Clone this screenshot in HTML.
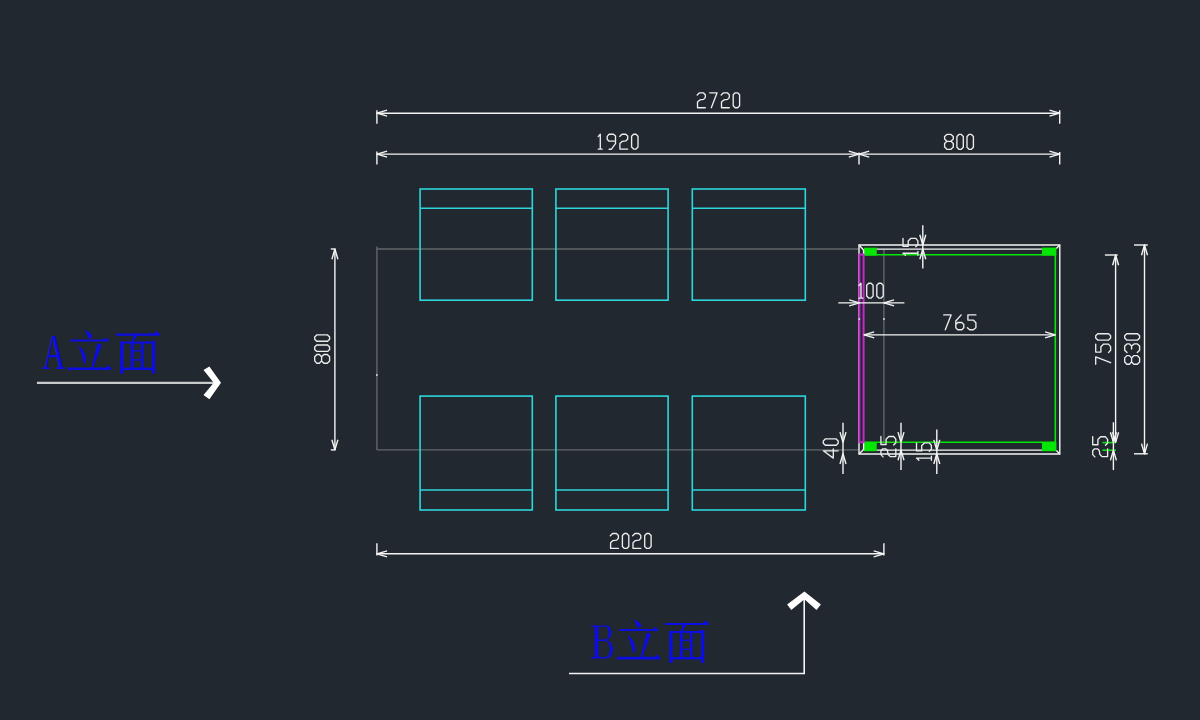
<!DOCTYPE html><html><head><meta charset="utf-8"><style>html,body{margin:0;padding:0;background:#22282f;width:1200px;height:720px;overflow:hidden}svg{display:block}</style></head><body>
<svg width="1200" height="720" viewBox="0 0 1200 720">
<rect width="1200" height="720" fill="#22282f"/>
<g stroke="#62666a" stroke-width="1.4" fill="none">
<line x1="376.9" y1="249" x2="858.8" y2="249"/>
<line x1="376.9" y1="449.9" x2="858.8" y2="449.9"/>
<line x1="376.9" y1="246.6" x2="376.9" y2="449.9"/>
<line x1="883.9" y1="249" x2="883.9" y2="442.3"/>
</g>
<g stroke="#2cd6dc" stroke-width="1.6" fill="none">
<rect x="420.1" y="189" width="112.2" height="111.2"/>
<line x1="420.1" y1="208.3" x2="532.3" y2="208.3"/>
<rect x="420.1" y="396.1" width="112.2" height="113.9"/>
<line x1="420.1" y1="490" x2="532.3" y2="490"/>
<rect x="555.9" y="189" width="112.2" height="111.2"/>
<line x1="555.9" y1="208.3" x2="668.1" y2="208.3"/>
<rect x="555.9" y="396.1" width="112.2" height="113.9"/>
<line x1="555.9" y1="490" x2="668.1" y2="490"/>
<rect x="692.3" y="189" width="113.0" height="111.2"/>
<line x1="692.3" y1="208.3" x2="805.3" y2="208.3"/>
<rect x="692.3" y="396.1" width="113.0" height="113.9"/>
<line x1="692.3" y1="490" x2="805.3" y2="490"/>
</g>
<g fill="#06e606" stroke="none">
<rect x="864" y="247.7" width="12.7" height="7.9"/>
<rect x="1041.9" y="247.6" width="14.5" height="8"/>
<rect x="864" y="442" width="12.7" height="9.2"/>
<rect x="1041.9" y="442" width="14.5" height="9.2"/>
</g>
<g stroke="#06e606" stroke-width="1.6" fill="none">
<line x1="864" y1="254.8" x2="1055.3" y2="254.8"/>
<line x1="864" y1="442.3" x2="1055.3" y2="442.3"/>
<line x1="1055.3" y1="254.8" x2="1055.3" y2="442.3"/>
<line x1="1102.4" y1="442.6" x2="1115.9" y2="442.6"/>
<line x1="1102.4" y1="450.2" x2="1115.9" y2="450.2"/>
</g>
<g stroke="#f4f4f4" stroke-width="1.4" fill="none">
<path d="M859,454 L859,245 L1059.8,245 L1059.8,454 Z"/>
<line x1="876.7" y1="249.1" x2="1041.9" y2="249.1"/>
<line x1="876.7" y1="450.1" x2="1041.9" y2="450.1"/>
<line x1="859" y1="245" x2="863.6" y2="250"/>
<line x1="863.6" y1="250" x2="863.6" y2="254.4"/>
<line x1="859" y1="454" x2="863.6" y2="449.5"/>
<line x1="863.6" y1="442.4" x2="863.6" y2="450"/>
<line x1="1059.8" y1="245" x2="1056.4" y2="248.4"/>
<line x1="1059.8" y1="454" x2="1056.4" y2="450.6"/>
</g>
<g stroke="#c42ac8" stroke-width="2.0" fill="none">
<path d="M859.4,442.2 L859.4,254.4 L863.6,254.4 L863.6,442.2 Z"/>
</g>
<g stroke="#f4f4f4" stroke-width="1.4" fill="none" stroke-linecap="butt" stroke-linejoin="round">
<line x1="376.9" y1="113.2" x2="1059.7" y2="113.2"/>
<path d="M387.10,110.20 L376.9,113.2 L387.10,116.20"/>
<path d="M1049.50,116.20 L1059.7,113.2 L1049.50,110.20"/>
<line x1="376.9" y1="110.2" x2="376.9" y2="123.8"/>
<line x1="1059.7" y1="110.2" x2="1059.7" y2="123.8"/>
<line x1="376.9" y1="154.1" x2="859" y2="154.1"/>
<path d="M387.10,151.10 L376.9,154.1 L387.10,157.10"/>
<path d="M848.80,157.10 L859,154.1 L848.80,151.10"/>
<line x1="859" y1="154.1" x2="1059.7" y2="154.1"/>
<path d="M869.20,151.10 L859,154.1 L869.20,157.10"/>
<path d="M1049.50,157.10 L1059.7,154.1 L1049.50,151.10"/>
<line x1="376.9" y1="151.4" x2="376.9" y2="164.6"/>
<line x1="859" y1="152.4" x2="859" y2="164.4"/>
<line x1="1059.7" y1="152" x2="1059.7" y2="164.6"/>
<line x1="376.9" y1="553.8" x2="883.9" y2="553.8"/>
<path d="M387.10,550.80 L376.9,553.8 L387.10,556.80"/>
<path d="M873.70,556.80 L883.9,553.8 L873.70,550.80"/>
<line x1="376.9" y1="543.2" x2="376.9" y2="555.6"/>
<line x1="883.9" y1="543.2" x2="883.9" y2="555.6"/>
<line x1="334.9" y1="249" x2="334.9" y2="449.9"/>
<path d="M337.90,259.20 L334.9,249 L331.90,259.20"/>
<path d="M331.90,439.70 L334.9,449.9 L337.90,439.70"/>
<line x1="330.8" y1="249" x2="335.4" y2="249"/>
<line x1="330.8" y1="449.9" x2="335.4" y2="449.9"/>
<line x1="838.3" y1="302.9" x2="904.4" y2="302.9"/>
<path d="M849.20,305.90 L859.4,302.9 L849.20,299.90"/>
<path d="M894.10,299.90 L883.9,302.9 L894.10,305.90"/>
<line x1="864" y1="334.9" x2="1055.3" y2="334.9"/>
<path d="M874.20,331.90 L864,334.9 L874.20,337.90"/>
<path d="M1045.10,337.90 L1055.3,334.9 L1045.10,331.90"/>
<line x1="922.8" y1="225.2" x2="922.8" y2="268.6"/>
<path d="M919.80,234.80 L922.8,245 L925.80,234.80"/>
<path d="M925.80,259.30 L922.8,249.1 L919.80,259.30"/>
<line x1="1115.6" y1="255" x2="1115.6" y2="442.4"/>
<path d="M1118.60,265.20 L1115.6,255 L1112.60,265.20"/>
<path d="M1112.60,432.20 L1115.6,442.4 L1118.60,432.20"/>
<line x1="1104.9" y1="255" x2="1117.7" y2="255"/>
<line x1="1144.5" y1="245" x2="1144.5" y2="453.8"/>
<path d="M1147.50,255.20 L1144.5,245 L1141.50,255.20"/>
<path d="M1141.50,443.60 L1144.5,453.8 L1147.50,443.60"/>
<line x1="1134" y1="245" x2="1147.8" y2="245"/>
<line x1="1134" y1="453.8" x2="1147.8" y2="453.8"/>
<line x1="1113.4" y1="422.3" x2="1113.4" y2="470.1"/>
<path d="M1110.40,432.20 L1113.4,442.4 L1116.40,432.20"/>
<path d="M1116.40,460.40 L1113.4,450.2 L1110.40,460.40"/>
<line x1="843" y1="422.7" x2="843" y2="474.1"/>
<path d="M840.00,432.10 L843,442.3 L846.00,432.10"/>
<path d="M846.00,464.00 L843,453.8 L840.00,464.00"/>
<line x1="901" y1="422.7" x2="901" y2="470"/>
<path d="M898.00,432.10 L901,442.3 L904.00,432.10"/>
<path d="M904.00,460.30 L901,450.1 L898.00,460.30"/>
<line x1="936.8" y1="429.4" x2="936.8" y2="474.1"/>
<path d="M933.80,439.90 L936.8,450.1 L939.80,439.90"/>
<path d="M939.80,464.00 L936.8,453.8 L933.80,464.00"/>
</g>
<g fill="#d8d8d8">
<rect x="858.4" y="318.2" width="1.7" height="1.7"/>
<rect x="883.1" y="318.2" width="1.7" height="1.7"/>
<rect x="376" y="374.2" width="1.7" height="1.7"/>
</g>
<g stroke="#ececec" stroke-width="1.35" fill="none" stroke-linejoin="round" stroke-linecap="round">
<path transform="translate(697.20,92.80)" d="M0,2.2 L2.3,0 L6.1,0 L8.1,1.9 L8.1,4.8 L6.4,6.6 L2.7,7.1 L0.3,9.3 L0.3,14.9 L8.1,14.9"/>
<path transform="translate(709.70,92.80)" d="M0,0 L7.4,0 L1.6,14.9"/>
<path transform="translate(721.20,92.80)" d="M0,2.2 L2.3,0 L6.1,0 L8.1,1.9 L8.1,4.8 L6.4,6.6 L2.7,7.1 L0.3,9.3 L0.3,14.9 L8.1,14.9"/>
<path transform="translate(733.20,92.80)" d="M0,2 L2,0 L4.4,0 L6.4,2 L6.4,12.9 L4.4,14.9 L2,14.9 L0,12.9 Z"/>
<path transform="translate(598.20,134.20)" d="M0,2.4 L2.1,0 L2.1,14.9 M0,14.9 L4.0,14.9"/>
<path transform="translate(607.20,134.20)" d="M8.3,6.85 L1.6,6.85 L0,5.1 L0,2.15 L1.9,0 L6.3,0 L8.3,1.9 L8.3,9.45 L4.25,15 L1.9,15"/>
<path transform="translate(619.60,134.20)" d="M0,2.2 L2.3,0 L6.1,0 L8.1,1.9 L8.1,4.8 L6.4,6.6 L2.7,7.1 L0.3,9.3 L0.3,14.9 L8.1,14.9"/>
<path transform="translate(631.60,134.20)" d="M0,2 L2,0 L4.4,0 L6.4,2 L6.4,12.9 L4.4,14.9 L2,14.9 L0,12.9 Z"/>
<path transform="translate(944.60,134.40)" d="M2.3,6.9 L0,4.7 L0,2.2 L2.3,0 L6.4,0 L8.7,2.2 L8.7,4.7 L6.4,6.9 Z M2.3,6.9 L0,9.2 L0,12.6 L2.3,14.9 L6.4,14.9 L8.7,12.6 L8.7,9.2 L6.4,6.9"/>
<path transform="translate(956.90,134.40)" d="M0,2 L2,0 L4.4,0 L6.4,2 L6.4,12.9 L4.4,14.9 L2,14.9 L0,12.9 Z"/>
<path transform="translate(967.00,134.40)" d="M0,2 L2,0 L4.4,0 L6.4,2 L6.4,12.9 L4.4,14.9 L2,14.9 L0,12.9 Z"/>
<path transform="translate(943.70,314.90)" d="M0,0 L7.4,0 L1.6,14.9"/>
<path transform="translate(955.80,314.90)" d="M5.4,0 L0,6.1 L0,12.9 L2,14.9 L6,14.9 L8,12.9 L8,9.6 L6,7.6 L2,7.6 L0,9.6"/>
<path transform="translate(967.40,314.90)" d="M8.5,0 L0.5,0 L0.5,5.2 L5.8,5.2 L8.5,7.9 L8.5,12.8 L5.9,14.9 L2.3,14.9 L0,12.8"/>
<path transform="translate(858.90,283.20)" d="M0,2.4 L2.1,0 L2.1,14.9 M0,14.9 L4.0,14.9"/>
<path transform="translate(866.70,283.20)" d="M0,2 L2,0 L4.4,0 L6.4,2 L6.4,12.9 L4.4,14.9 L2,14.9 L0,12.9 Z"/>
<path transform="translate(876.80,283.20)" d="M0,2 L2,0 L4.4,0 L6.4,2 L6.4,12.9 L4.4,14.9 L2,14.9 L0,12.9 Z"/>
<path transform="translate(610.30,533.50)" d="M0,2.2 L2.3,0 L6.1,0 L8.1,1.9 L8.1,4.8 L6.4,6.6 L2.7,7.1 L0.3,9.3 L0.3,14.9 L8.1,14.9"/>
<path transform="translate(622.40,533.50)" d="M0,2 L2,0 L4.4,0 L6.4,2 L6.4,12.9 L4.4,14.9 L2,14.9 L0,12.9 Z"/>
<path transform="translate(632.70,533.50)" d="M0,2.2 L2.3,0 L6.1,0 L8.1,1.9 L8.1,4.8 L6.4,6.6 L2.7,7.1 L0.3,9.3 L0.3,14.9 L8.1,14.9"/>
<path transform="translate(644.70,533.50)" d="M0,2 L2,0 L4.4,0 L6.4,2 L6.4,12.9 L4.4,14.9 L2,14.9 L0,12.9 Z"/>
<path transform="matrix(0,-1,1,0,314.70,363.20)" d="M2.3,6.9 L0,4.7 L0,2.2 L2.3,0 L6.4,0 L8.7,2.2 L8.7,4.7 L6.4,6.9 Z M2.3,6.9 L0,9.2 L0,12.6 L2.3,14.9 L6.4,14.9 L8.7,12.6 L8.7,9.2 L6.4,6.9"/>
<path transform="matrix(0,-1,1,0,314.70,351.40)" d="M0,2 L2,0 L4.4,0 L6.4,2 L6.4,12.9 L4.4,14.9 L2,14.9 L0,12.9 Z"/>
<path transform="matrix(0,-1,1,0,314.70,341.30)" d="M0,2 L2,0 L4.4,0 L6.4,2 L6.4,12.9 L4.4,14.9 L2,14.9 L0,12.9 Z"/>
<path transform="matrix(0,-1,1,0,1095.70,364.30)" d="M0,0 L7.4,0 L1.6,14.9"/>
<path transform="matrix(0,-1,1,0,1095.70,352.60)" d="M8.5,0 L0.5,0 L0.5,5.2 L5.8,5.2 L8.5,7.9 L8.5,12.8 L5.9,14.9 L2.3,14.9 L0,12.8"/>
<path transform="matrix(0,-1,1,0,1095.70,340.10)" d="M0,2 L2,0 L4.4,0 L6.4,2 L6.4,12.9 L4.4,14.9 L2,14.9 L0,12.9 Z"/>
<path transform="matrix(0,-1,1,0,1124.70,364.30)" d="M2.3,6.9 L0,4.7 L0,2.2 L2.3,0 L6.4,0 L8.7,2.2 L8.7,4.7 L6.4,6.9 Z M2.3,6.9 L0,9.2 L0,12.6 L2.3,14.9 L6.4,14.9 L8.7,12.6 L8.7,9.2 L6.4,6.9"/>
<path transform="matrix(0,-1,1,0,1124.70,352.60)" d="M0,2.3 L2.3,0 L6.6,0 L8.7,2.3 L8.7,4.8 L6.6,6.9 L3.6,6.9 M6.6,6.9 L8.7,9.4 L8.7,12.7 L6.6,14.9 L2.3,14.9 L0,12.6"/>
<path transform="matrix(0,-1,1,0,1124.70,340.10)" d="M0,2 L2,0 L4.4,0 L6.4,2 L6.4,12.9 L4.4,14.9 L2,14.9 L0,12.9 Z"/>
<path transform="matrix(0,-1,1,0,903.00,255.30)" d="M0,2.4 L2.1,0 L2.1,14.9 M0,14.9 L4.0,14.9"/>
<path transform="matrix(0,-1,1,0,903.00,246.80)" d="M8.5,0 L0.5,0 L0.5,5.2 L5.8,5.2 L8.5,7.9 L8.5,12.8 L5.9,14.9 L2.3,14.9 L0,12.8"/>
<path transform="matrix(0,-1,1,0,823.30,458.10)" d="M7.3,14.9 L7.3,0 L0,10 L9.3,10"/>
<path transform="matrix(0,-1,1,0,823.30,445.30)" d="M0,2 L2,0 L4.4,0 L6.4,2 L6.4,12.9 L4.4,14.9 L2,14.9 L0,12.9 Z"/>
<path transform="matrix(0,-1,1,0,880.90,456.90)" d="M0,2.2 L2.3,0 L6.1,0 L8.1,1.9 L8.1,4.8 L6.4,6.6 L2.7,7.1 L0.3,9.3 L0.3,14.9 L8.1,14.9"/>
<path transform="matrix(0,-1,1,0,880.90,445.00)" d="M8.5,0 L0.5,0 L0.5,5.2 L5.8,5.2 L8.5,7.9 L8.5,12.8 L5.9,14.9 L2.3,14.9 L0,12.8"/>
<path transform="matrix(0,-1,1,0,916.50,460.20)" d="M0,2.4 L2.1,0 L2.1,14.9 M0,14.9 L4.0,14.9"/>
<path transform="matrix(0,-1,1,0,916.50,451.40)" d="M8.5,0 L0.5,0 L0.5,5.2 L5.8,5.2 L8.5,7.9 L8.5,12.8 L5.9,14.9 L2.3,14.9 L0,12.8"/>
<path transform="matrix(0,-1,1,0,1092.70,456.90)" d="M0,2.2 L2.3,0 L6.1,0 L8.1,1.9 L8.1,4.8 L6.4,6.6 L2.7,7.1 L0.3,9.3 L0.3,14.9 L8.1,14.9"/>
<path transform="matrix(0,-1,1,0,1092.70,445.30)" d="M8.5,0 L0.5,0 L0.5,5.2 L5.8,5.2 L8.5,7.9 L8.5,12.8 L5.9,14.9 L2.3,14.9 L0,12.8"/>
</g>
<g stroke="#c9cbcd" stroke-width="2.1" fill="none">
<line x1="36.9" y1="382.9" x2="214" y2="382.9"/>
</g>
<g stroke="#f2f4f6" stroke-width="1.6" fill="none">
<path d="M569,673.5 L804.2,673.5 L804.2,599"/>
</g>
<g fill="#ffffff" stroke="none">
<path d="M209.4,366.4 L221,382.7 L209.4,399.3 L203.5,395 L213.75,382.7 L203.5,369.9 Z"/>
<path d="M804.4,591.5 L820.9,604.4 L816.5,610.1 L804.4,599.25 L791.3,610.1 L787.1,604.4 Z"/>
</g>
<g fill="#0c0ce4" stroke="none">

<path d="M84.3,330 C86.5,330.8 89.5,332 91.2,334 C92.4,335.6 92.2,338 90.6,338.6 C89.4,338.8 88.2,337.6 87.6,336.4 C86.8,334.4 85.8,332.2 84.3,330 Z"/>
<path d="M70.2,339.5 L104.5,339.5 L106.2,337.4 L109,340 L108.6,341.6 L70.2,341.6 Z"/>
<path d="M78.2,345.5 C80.4,346.6 83.2,349.6 84.8,353.4 C85.9,356.2 86.2,359.8 85.8,362.4 C85.5,364 84.6,364.2 83.9,363.2 C83.2,361.6 82.8,358.6 81.9,355.4 C81,352.2 79.8,348.8 78.2,345.5 Z"/>
<path d="M97.6,343.3 L100.4,343.9 L102.2,346.3 L100.8,347.1 L93,368.2 L91.3,368.2 Z"/>
<path d="M67.9,367.4 L106.2,367.4 L108,365.1 L111.2,368.3 L110.7,370.1 L67.9,370.1 Z"/>
<path d="M116.8,333.6 L154.2,333.6 L156,331.1 L159.9,334 L159.6,335.7 L116.8,335.7 A1.05,1.05 0 0 1 116.8,333.6 Z"/>
<path d="M134.4,333.8 L137.6,334.1 L136.6,336.3 L132.9,343.2 L131.3,343.2 Z"/>
<rect x="120.2" y="341.5" width="3.3" height="32"/>
<rect x="151.9" y="341.5" width="3.2" height="32"/>
<rect x="123.1" y="341.6" width="28.8" height="2"/>
<path d="M150.6,341.6 L152.6,340.2 L155.4,341.6 Z"/>
<rect x="130.7" y="343" width="2.9" height="25.6"/>
<rect x="140.9" y="343" width="2.6" height="25.6"/>
<rect x="133.8" y="350.2" width="7" height="1.4"/>
<rect x="133.8" y="359.2" width="7" height="1.4"/>
<rect x="123.1" y="367.6" width="28.8" height="2.4"/>

<g transform="translate(549.1,289.4)">
<path d="M84.3,330 C86.5,330.8 89.5,332 91.2,334 C92.4,335.6 92.2,338 90.6,338.6 C89.4,338.8 88.2,337.6 87.6,336.4 C86.8,334.4 85.8,332.2 84.3,330 Z"/>
<path d="M70.2,339.5 L104.5,339.5 L106.2,337.4 L109,340 L108.6,341.6 L70.2,341.6 Z"/>
<path d="M78.2,345.5 C80.4,346.6 83.2,349.6 84.8,353.4 C85.9,356.2 86.2,359.8 85.8,362.4 C85.5,364 84.6,364.2 83.9,363.2 C83.2,361.6 82.8,358.6 81.9,355.4 C81,352.2 79.8,348.8 78.2,345.5 Z"/>
<path d="M97.6,343.3 L100.4,343.9 L102.2,346.3 L100.8,347.1 L93,368.2 L91.3,368.2 Z"/>
<path d="M67.9,367.4 L106.2,367.4 L108,365.1 L111.2,368.3 L110.7,370.1 L67.9,370.1 Z"/>
<path d="M116.8,333.6 L154.2,333.6 L156,331.1 L159.9,334 L159.6,335.7 L116.8,335.7 A1.05,1.05 0 0 1 116.8,333.6 Z"/>
<path d="M134.4,333.8 L137.6,334.1 L136.6,336.3 L132.9,343.2 L131.3,343.2 Z"/>
<rect x="120.2" y="341.5" width="3.3" height="32"/>
<rect x="151.9" y="341.5" width="3.2" height="32"/>
<rect x="123.1" y="341.6" width="28.8" height="2"/>
<path d="M150.6,341.6 L152.6,340.2 L155.4,341.6 Z"/>
<rect x="130.7" y="343" width="2.9" height="25.6"/>
<rect x="140.9" y="343" width="2.6" height="25.6"/>
<rect x="133.8" y="350.2" width="7" height="1.4"/>
<rect x="133.8" y="359.2" width="7" height="1.4"/>
<rect x="123.1" y="367.6" width="28.8" height="2.4"/>
</g>
</g>
<g fill="#0c0ce4" font-family="Liberation Serif, serif" font-size="50.8">
<text transform="translate(42.4,368.9) scale(0.63,1)">A</text>
<path fill-rule="evenodd" d="M591.1,625.4 L606.8,625.4 C609.8,625.7 611.4,629 611.4,632.6 C611.4,636.2 609.4,639.2 606.6,640.2 C610.4,641 613,644.8 613,649.3 C613,654.6 610,658.5 606.2,658.5 L591.1,658.5 L591.1,657 L594.6,657 L594.6,626.8 L591.1,626.8 Z M598.4,626.8 L605.8,626.8 C607.6,627 608.5,629.6 608.5,632.6 C608.5,636 607.4,639.5 605.4,639.6 L598.4,639.6 Z M598.4,640.9 L605,640.9 C608.2,641.1 609.9,645 609.9,649.3 C609.9,654 608.2,657 605.4,657 L598.4,657 Z"/>
</g>
</svg></body></html>
